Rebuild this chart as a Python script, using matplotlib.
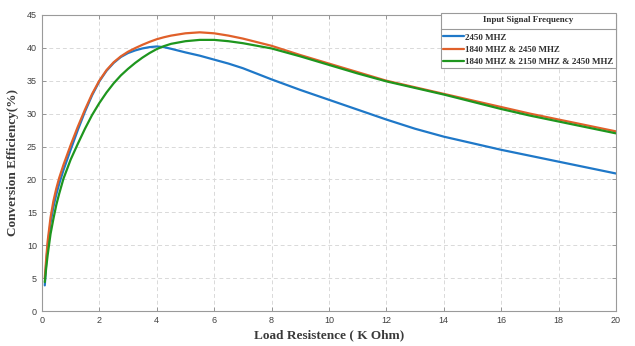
import matplotlib
matplotlib.use("Agg")
import matplotlib.pyplot as plt
from matplotlib.lines import Line2D

# Load resistance (K Ohm)
x_vals = [0.1, 0.15, 0.2, 0.3, 0.4, 0.5, 0.6, 0.75, 1.0, 1.25, 1.5, 1.75, 2, 2.25, 2.5, 2.75,
          3, 3.25, 3.5, 3.75, 4, 4.25, 4.5, 5, 5.5, 6, 6.5, 7, 8, 9, 10, 11, 12, 13, 14, 15,
          16, 17, 18, 19, 20]

eff_2450 = [3.9, 7.3, 9.9, 13.4, 15.8, 17.7, 19.3, 21.4, 24.5, 27.5, 30.3, 32.8, 34.9, 36.5, 37.7, 38.6,
            39.2, 39.6, 39.9, 40.1, 40.2, 40.1, 39.85, 39.3, 38.8, 38.2, 37.6, 36.9, 35.2, 33.6, 32.1, 30.6, 29.1, 27.7, 26.5, 25.5,
            24.5, 23.6, 22.7, 21.8, 20.9]

eff_1840_2450 = [5.0, 8.0, 10.6, 14.2, 16.7, 18.6, 20.2, 22.2, 25.2, 28.0, 30.6, 33.0, 35.0, 36.6, 37.8, 38.7,
                 39.4, 39.95, 40.45, 40.9, 41.3, 41.6, 41.85, 42.2, 42.35, 42.2, 41.85, 41.4, 40.3, 38.9, 37.6, 36.3, 35.0, 34.0, 33.0, 32.0,
                 31.0, 30.0, 29.1, 28.2, 27.3]

eff_1840_2150_2450 = [4.4, 6.6, 8.5, 11.7, 14.0, 16.1, 17.8, 20.1, 23.0, 25.4, 27.7, 29.8, 31.6, 33.2, 34.6, 35.8,
                      36.8, 37.7, 38.5, 39.2, 39.8, 40.25, 40.6, 41.0, 41.2, 41.2, 41.0, 40.7, 39.9, 38.7, 37.4, 36.1, 34.9, 33.9, 32.9, 31.8,
                      30.7, 29.7, 28.8, 27.9, 27.0]

series_labels = ["2450 MHZ", "1840 MHZ & 2450 MHZ", "1840 MHZ & 2150 MHZ & 2450 MHZ"]
series_colors = ["#1f78c8", "#e0602a", "#1e961e"]

x_ticks = [0, 2, 4, 6, 8, 10, 12, 14, 16, 18, 20]
y_ticks = [0, 5, 10, 15, 20, 25, 30, 35, 40, 45]

fig = plt.figure(figsize=(6.35, 3.46), dpi=100)
ax = fig.add_axes([0.066, 0.101, 0.904, 0.856])

for ys, lab, col in zip([eff_2450, eff_1840_2450, eff_1840_2150_2450], series_labels, series_colors):
    ax.plot(x_vals, ys, color=col, lw=1.6, label=lab, solid_capstyle="round", solid_joinstyle="round")

ax.set_xlim(0, 20)
ax.set_ylim(0, 45)
ax.set_xticks(x_ticks)
ax.set_yticks(y_ticks)
ax.grid(True, linestyle=(0, (4, 3)), color="#d9d9d9", lw=0.7)
ax.set_axisbelow(True)
ax.tick_params(direction="in", length=3, width=0.6, colors="#8a8a8a", labelcolor="#404040",
               labelsize=6.5, top=True, right=True)
for lbl in ax.get_xticklabels() + ax.get_yticklabels():
    lbl.set_family("Liberation Sans")
for s in ax.spines.values():
    s.set_color("#9a9a9a")
    s.set_linewidth(0.8)

ax.set_xlabel("Load Resistence ( K Ohm)", family="Liberation Serif", fontweight="bold",
              fontsize=9.5, color="#3a3a3a", labelpad=3)
ax.set_ylabel("Conversion Efficiency(%)", family="Liberation Serif", fontweight="bold",
              fontsize=9.5, color="#3a3a3a", labelpad=6)

leg = ax.legend(loc="upper right", bbox_to_anchor=(1.0, 1.007), borderaxespad=0,
                title="Input Signal Frequency", fancybox=False, framealpha=1,
                edgecolor="#9a9a9a", handlelength=2.3, handletextpad=0.1,
                borderpad=0.3, labelspacing=0.42,
                prop={"family": "Liberation Serif", "weight": "bold", "size": 6.5},
                title_fontproperties={"family": "Liberation Serif", "weight": "bold", "size": 6.5})
leg.get_frame().set_linewidth(0.8)
leg._legend_box.sep = 7
for t in leg.get_texts():
    t.set_color("#303030")
leg.get_title().set_color("#303030")

fig.canvas.draw()
bb = leg.get_window_extent()
tb = leg.get_title().get_window_extent()
t0 = leg.get_texts()[0].get_window_extent()
ysep = (tb.y0 + t0.y1) / 2
inv = fig.transFigure.inverted()
(x0, y0), (x1, y1) = inv.transform([[bb.x0, ysep], [bb.x1, ysep]])
fig.add_artist(Line2D([x0, x1], [y0, y1], color="#9a9a9a", lw=0.8, zorder=10))

fig.savefig("out.png", dpi=100)
